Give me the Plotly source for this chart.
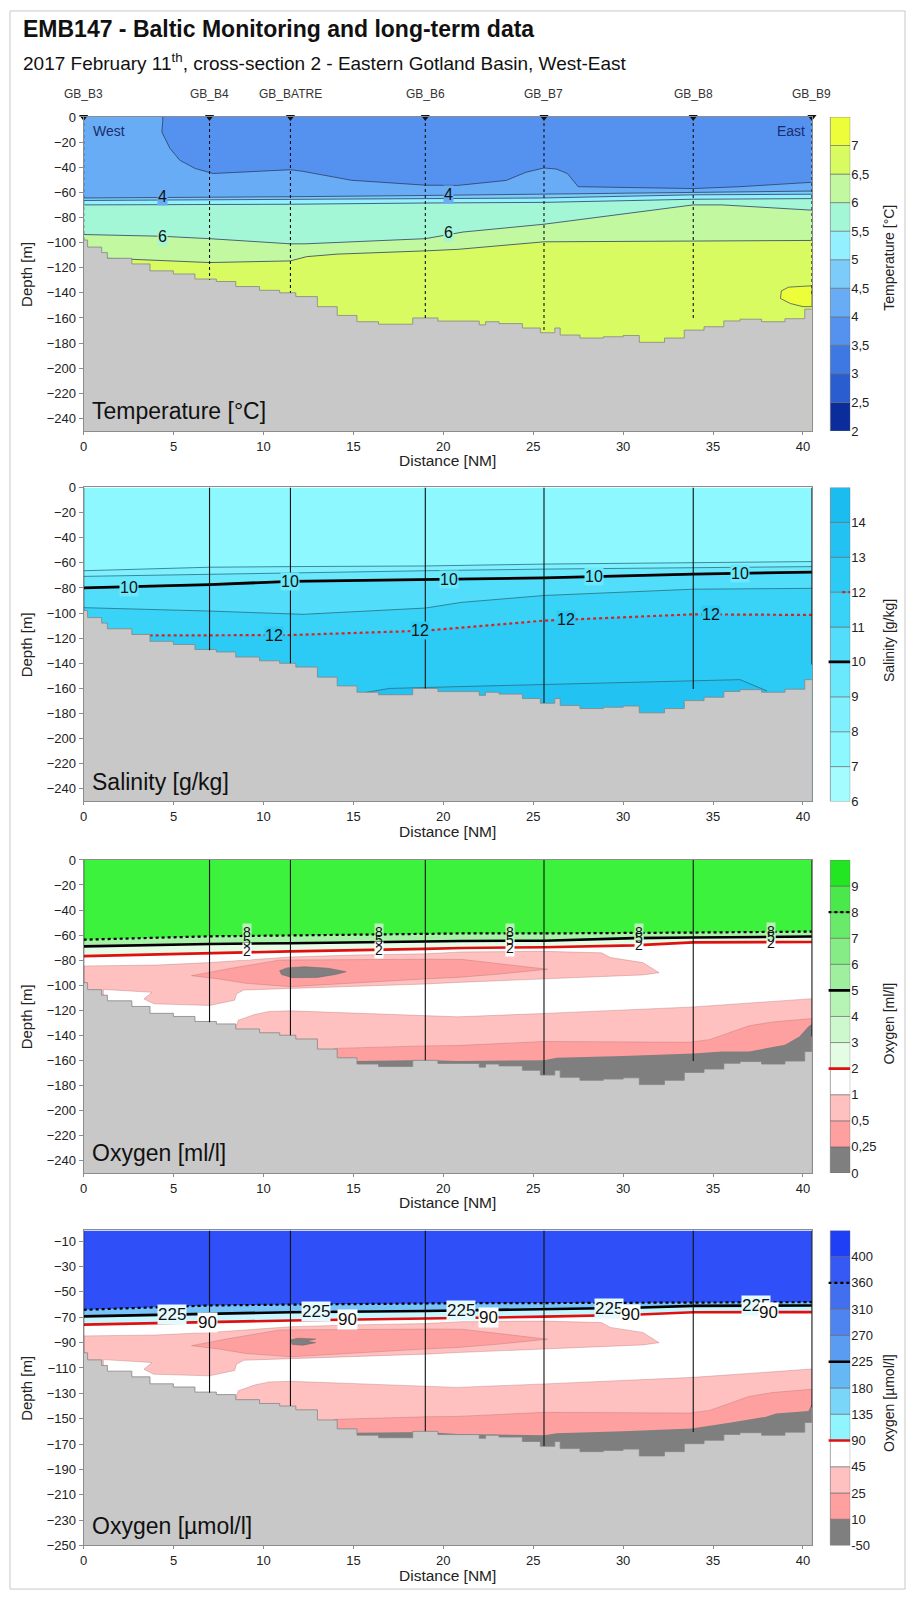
import plotly.graph_objects as go

W, H = 910, 1602
FONT = "Liberation Sans, Arial, sans-serif"
YB = -250.0
XMAX = 40.5

# ---------------- stations & bathymetry ----------------
station_names = ["GB_B3", "GB_B4", "GB_BATRE", "GB_B6", "GB_B7", "GB_B8", "GB_B9"]
station_dist = [0.0, 7.0, 11.5, 19.0, 25.6, 33.9, 40.5]
station_depth = [-98, -129.6, -140, -160, -171.5, -160.5, -141]

bathy_x = [0.0, 0.22, 1.0, 1.32, 2.68, 3.69, 4.99, 6.19, 7.38, 8.46, 9.78, 10.9, 11.8, 13.0,
           14.1, 15.2, 16.4, 18.3, 19.7, 22.0, 22.35, 23.1, 24.4, 25.4, 26.2, 26.5, 27.6, 28.9,
           30.0, 30.9, 32.3, 33.4, 34.5, 35.6, 36.5, 37.7, 39.0, 40.1]
bathy_d = [-98, -103.6, -108, -112.5, -117, -122.5, -125, -129, -131, -135, -138, -140, -143, -151,
           -158, -163, -165, -160, -162.5, -165.5, -163, -164.5, -168, -171.8, -168, -173.6, -176, -175,
           -174, -179.4, -176, -169.7, -167, -162.4, -161, -163, -160.6, -153]

# ---------------- temperature ----------------
temp_x = [0, 7, 11.5, 19, 25.6, 33.9, 40.5]
tA_x = [4.4, 4.4, 4.35, 4.8, 5.35, 6.2, 7.2, 11.5, 12.2, 14.9, 19.0, 20.8, 23.5, 24.6, 25.6, 26.3,
        26.9, 27.5, 33.9, 36.5, 40.5]
tA_d = [0, -3, -12, -25, -34.5, -41, -45, -42, -43.3, -50.4, -54.3, -54.5, -50.5, -44, -40.6, -41.5,
        -45, -55.5, -57, -55.5, -52]
t_iso1 = [-64.5, -64, -63.5, -62.5, -61.5, -60, -59]
t_iso2 = [-66.5, -66, -65.5, -65, -64.5, -62, -61.5]
t_iso3 = [-70, -70, -69.5, -68.5, -68, -65.5, -65]
t6_x = [0, 4.4, 7, 11.5, 12.3, 19, 21.1, 25.6, 33.9, 35.5, 40.5]
t6_d = [-93.6, -95, -96.9, -101, -101, -96.9, -91.6, -85.4, -70, -70, -74.2]
t65_x = [0, 1.3, 7, 11.5, 12.4, 14.1, 19, 20.8, 25.6, 33.9, 40.5]
t65_d = [-110, -112.5, -115.9, -114.6, -111.2, -109.2, -106.6, -105.4, -99.4, -98.9, -98.3]
t7_x = [40.5, 39.2, 38.8, 38.75, 39.3, 40.0, 40.5]
t7_d = [-134.4, -135.5, -138.5, -144.5, -148.5, -151, -151]
temp_band_colors = ["#5592f0", "#68acf6", "#7ccbf8", "#92f0ff", "#a4f7d6", "#c2f8a0", "#d9fb62", "#eefd3a"]
temp_lab_text = ["4", "4", "6", "6"]
temp_lab_x = [4.4, 20.3, 4.4, 20.3]
temp_lab_d = [-63, -61.5, -94.8, -92.3]
temp_lab_bg = ["#68acf6", "#68acf6", "#a4f7d6", "#a4f7d6"]
temp_cb_colors = ["#0b2d9c", "#2a5ed0", "#3d78e3", "#5592f0", "#68acf6", "#7ccbf8", "#92f0ff",
                  "#a4f7d6", "#c2f8a0", "#d9fb62", "#eefd3a"]
temp_cb_labels = ["2", "2,5", "3", "3,5", "4", "4,5", "5", "5,5", "6", "6,5", "7"]

# ---------------- salinity ----------------
sal_x = [0, 7, 11.5, 19, 25.6, 33.9, 40.5]
s8 = [-66.3, -63.5, -63, -62.5, -61, -60, -59]
s9 = [-70.8, -69, -68, -66.3, -65, -64, -63]
s10 = [-80, -77.4, -74.7, -73, -72, -69, -67.4]
s11_x = [0, 7, 12.2, 19, 21, 25.6, 33.9, 40.5]
s11 = [-95.7, -98.4, -101, -96, -91.5, -86, -81, -80.3]
s12 = [-118, -118, -117.5, -114, -106, -101, -101.5]
s13_x = [14.5, 17, 21, 25.6, 30, 33.9, 36.5, 38]
s13 = [-166, -160, -158.5, -157, -155.5, -154, -153, -162]
sal_band_colors = ["#8df8ff", "#7ff1fe", "#6ae8fc", "#52ddfa", "#38d3f7", "#2ccbf5", "#22c3f2"]
sal_lab10_x = [2.5, 11.5, 20.3, 28.4, 36.5]
sal_lab10_d = [-79.3, -74.7, -73, -71, -68.2]
sal_lab12_x = [10.6, 18.7, 26.8, 34.9]
sal_lab12_d = [-117.8, -114, -105, -101]
sal_cb_colors = ["#a4fcff", "#8df8ff", "#7ff1fe", "#6ae8fc", "#52ddfa", "#38d3f7", "#2ccbf5", "#22c3f2", "#1bbdf0"]
sal_cb_labels = ["6", "7", "8", "9", "10", "11", "12", "13", "14"]

# ---------------- oxygen (shared section shapes) ----------------
ox_x = [0, 7, 11.5, 19, 21, 25.6, 30.6, 33.9, 40.5]
ox8 = [-63.7, -61, -60.3, -59, -58.7, -58.7, -58.5, -58, -57.2]
ox5 = [-69, -67.1, -66.5, -65, -64.7, -64.5, -62.4, -62, -61.2]
ox2 = [-76.8, -74.2, -73, -71, -70.3, -69.7, -68.2, -65.8, -65.5]
oxu360 = [-64.1, -60.7, -60, -59, -58.9, -58.8, -58.5, -58.3, -58.1]
oxu225 = [-69.3, -67.2, -66, -65, -64.6, -64, -62.5, -61, -60.7]
oxu90 = [-75.8, -73.7, -72.5, -71, -70.6, -69.5, -68, -66, -65.9]

ox_up_x = [0, 4, 7, 10, 11.5, 15, 19, 21, 25.6, 28.8, 29.3, 31.1, 32.0, 31.1, 28.1, 25.6, 20.8, 19,
           11.5, 8.9, 8.5, 8.4, 7, 3.9, 3.35, 3.8, 1.1, 1.1, 0]
ox_up_d = [-84.7, -84, -82, -79, -77.5, -76, -75, -73.5, -73, -74.2, -78, -82, -90, -91.8, -93.4, -95.2,
           -97.8, -99.1, -102.3, -103.9, -107, -112, -116.2, -114.9, -111, -105.7, -103.4, -110, -110]
ox_lens_x = [6.0, 8.0, 10.9, 15, 19, 21, 23, 25.8, 23, 20.8, 19, 15, 11.5, 9, 7.5]
ox_lens_d = [-92.4, -87, -80, -79.5, -79.3, -79.4, -82.5, -87.3, -91.3, -93.8, -95, -98, -101.2, -98.5, -95]
ox_blob_x = [10.9, 11.3, 12.3, 13.6, 14.6, 14.0, 13.0, 11.6, 11.0]
ox_blob_d = [-88.5, -86.2, -85.3, -86.5, -89.3, -91.5, -93.8, -94.0, -91.5]
oxu_blob_x = [11.5, 11.9, 12.9, 12.4, 12.9, 12.2, 11.6]
oxu_blob_d = [-88, -86.5, -87.2, -88.8, -90, -92, -91.5]
ox_lo1_x = [8.3, 8.6, 9.5, 10.3, 11.5, 15, 19, 20.8, 25.6, 33.9, 40.5]
ox_lo1_d = [-140, -128, -123.5, -121, -120.5, -122.5, -124.8, -125.3, -122.6, -117.4, -110.8]
ox_lo2_x = [13.0, 14.0, 19, 20.8, 25.6, 33.7, 34.8, 37.0, 38.3, 40.5]
ox_lo2_d = [-158, -150.5, -148.5, -148.2, -145, -145.6, -143.5, -132.5, -129.4, -126.7]
ox_lo3_x = [14.9, 15.2, 19, 20.8, 25.6, 26.3, 30, 33.9, 35.5, 37.0, 39.0, 39.8, 40.3, 40.5]
ox_lo3_d = [-170, -160.5, -159.8, -160.5, -160, -158, -156.6, -154.6, -153, -152.9, -147.6, -141, -133, -131]
oxu_lo3_x = [14.9, 15.2, 19, 20.8, 25.6, 26.3, 30, 33.8, 36, 37.9, 38.5, 40.3, 40.5]
oxu_lo3_d = [-170, -161, -160.5, -162, -163, -161.5, -160, -157.7, -153, -148.6, -146, -144, -138.5]

oxml_lab_x = [9.1, 16.4, 23.7, 30.9, 38.2]
oxml_lab8_d = [-57.8, -57.6, -57.5, -57.3, -56.6]
oxml_lab5_d = [-64.5, -64.2, -63.6, -62.5, -61.6]
oxml_lab2_d = [-72.8, -71.8, -70.3, -68.3, -66.1]
oxml_cb_colors = ["#7f7f7f", "#ffa0a0", "#ffc0c0", "#ffffff", "#e4fce4", "#cdf8cd", "#b6f4b6", "#9ef09e",
                  "#86ec86", "#6aea6a", "#4ae84a", "#22e622"]
oxml_cb_labels = ["0", "0,25", "0,5", "1", "2", "3", "4", "5", "6", "7", "8", "9"]

oxu_lab225_x = [4.9, 12.9, 21.0, 29.2, 37.4]
oxu_lab225_d = [-67.5, -65.5, -64.5, -63, -61]
oxu_lab90_x = [6.9, 14.7, 22.5, 30.4, 38.1]
oxu_lab90_d = [-74, -72, -70.5, -68.2, -66]
oxu_cb_colors = ["#7f7f7f", "#ffa0a0", "#ffc0c0", "#ffffff", "#90f5ff", "#7ad6f8", "#66b8f5", "#5a9cf2",
                 "#4d84f0", "#426ff0", "#3658f4", "#1f3ff7"]
oxu_cb_labels = ["-50", "10", "25", "45", "90", "135", "180", "225", "270", "310", "360", "400"]

panel_titles = ["Temperature [°C]", "Salinity [g/kg]", "Oxygen [ml/l]", "Oxygen [µmol/l]"]
cbar_titles = ["Temperature [°C]", "Salinity [g/kg]", "Oxygen [ml/l]", "Oxygen [µmol/l]"]

# ---------------- layout geometry (pixels) ----------------
panel_px = [(111, 428), (485, 802), (861, 1177), (1235, 1553)]
panel_yrange = [[-250, 0], [-250, 0], [-250, 0], [-250, -1.5]]
panel_ticks = [list(range(-240, 1, 20))] * 3 + [list(range(-250, -9, 20))]
cbar_title_y = [253, 640, 1026, 1409]
PX_L, PX_R = 80, 811.5
CB_L, CB_R = 828, 850

fig = go.Figure()


def axn(i):
    return ("x" if i == 1 else f"x{i}"), ("y" if i == 1 else f"y{i}")


def add_band(i, xs, ys, color):
    xa, ya = axn(i)
    fig.add_trace(go.Scatter(x=list(xs) + [xs[-1], xs[0]], y=list(ys) + [YB, YB], fill="toself",
                             fillcolor=color, mode="lines", line=dict(width=0), hoverinfo="skip",
                             xaxis=xa, yaxis=ya))


def add_poly(i, xs, ys, color, lcolor="rgba(0,0,0,0)", lw=0):
    xa, ya = axn(i)
    fig.add_trace(go.Scatter(x=list(xs) + [xs[0]], y=list(ys) + [ys[0]], fill="toself", fillcolor=color,
                             mode="lines", line=dict(width=lw, color=lcolor), hoverinfo="skip",
                             xaxis=xa, yaxis=ya))


def add_line(i, xs, ys, color, width=0.8, dash="solid"):
    xa, ya = axn(i)
    fig.add_trace(go.Scatter(x=xs, y=ys, mode="lines", line=dict(color=color, width=width, dash=dash),
                             hoverinfo="skip", xaxis=xa, yaxis=ya))


def stair(xs, ds, xend):
    px, py = [], []
    for k in range(len(xs)):
        x1 = xs[k + 1] if k + 1 < len(xs) else xend
        px += [xs[k], x1]
        py += [ds[k], ds[k]]
    return px, py


def add_bathy_and_stations(i, top, dash):
    xa, ya = axn(i)
    px, py = stair(bathy_x, bathy_d, XMAX)
    fig.add_trace(go.Scatter(x=px + [XMAX, 0], y=py + [YB, YB], fill="toself", fillcolor="#c8c8c8",
                             mode="lines", line=dict(width=0), hoverinfo="skip", xaxis=xa, yaxis=ya))
    fig.add_trace(go.Scatter(x=px, y=py, mode="lines", line=dict(color="#858585", width=0.8),
                             hoverinfo="skip", xaxis=xa, yaxis=ya))
    sx, sy = [], []
    for d, z in zip(station_dist, station_depth):
        sx += [d, d, None]
        sy += [top, z, None]
    fig.add_trace(go.Scatter(x=sx, y=sy, mode="lines", line=dict(color="#111111", width=1.1, dash=dash),
                             hoverinfo="skip", xaxis=xa, yaxis=ya))


TOP = [r[1] for r in panel_yrange]

# ----- panel 1: temperature -----
c = temp_band_colors
add_band(1, [0, XMAX], [0, 0], c[0])
add_band(1, [0] + tA_x, [0] + tA_d, c[1])
add_band(1, temp_x, t_iso1, c[2])
add_band(1, temp_x, t_iso2, c[3])
add_band(1, temp_x, t_iso3, c[4])
add_band(1, t6_x, t6_d, c[5])
add_band(1, t65_x, t65_d, c[6])
add_poly(1, t7_x, t7_d, c[7], "#2c3e66", 0.7)
lc = "#2c3e66"
add_line(1, tA_x, tA_d, lc)
add_line(1, temp_x, t_iso1, lc)
add_line(1, temp_x, t_iso2, lc)
add_line(1, temp_x, t_iso3, lc)
add_line(1, t6_x, t6_d, lc)
add_line(1, t65_x, t65_d, lc)
add_bathy_and_stations(1, TOP[0], "dot")

# ----- panel 2: salinity -----
c = sal_band_colors
add_band(2, [0, XMAX], [0, 0], c[0])
add_band(2, sal_x, s8, c[1])
add_band(2, sal_x, s9, c[2])
add_band(2, sal_x, s10, c[3])
add_band(2, s11_x, s11, c[4])
add_band(2, sal_x, s12, c[5])
add_band(2, s13_x, s13, c[6])
lc = "#2a6f80"
add_line(2, sal_x, s8, lc)
add_line(2, sal_x, s9, lc)
add_line(2, s11_x, s11, lc)
add_line(2, s13_x, s13, lc)
add_line(2, sal_x, s10, "#000000", 2.8)
add_line(2, sal_x, s12, "#d02828", 2.2, "dot")
add_bathy_and_stations(2, TOP[1], "solid")

# ----- panels 3 & 4: oxygen -----
pink_l = "#ffc0c0"
pink_d = "#ffa0a0"
gray_d = "#7f7f7f"
pline = "rgba(170,100,100,0.55)"
for i in (3, 4):
    if i == 3:
        add_band(i, [0, XMAX], [0, 0], "#3df23d")
        add_band(i, ox_x, ox8, "#a6f2a6")
        add_band(i, ox_x, ox5, "#e6fce6")
        add_band(i, ox_x, ox2, "#ffffff")
    else:
        add_band(i, [0, XMAX], [TOP[3], TOP[3]], "#2f4ff8")
        add_band(i, ox_x, oxu360, "#78c4f8")
        add_band(i, ox_x, oxu225, "#c6f6ff")
        add_band(i, ox_x, oxu90, "#ffffff")
    add_poly(i, ox_up_x, ox_up_d, pink_l, pline, 0.6)
    add_poly(i, ox_lens_x, ox_lens_d, pink_d, pline, 0.6)
    if i == 3:
        add_poly(i, ox_blob_x, ox_blob_d, gray_d, "#666666", 0.5)
    else:
        add_poly(i, oxu_blob_x, oxu_blob_d, gray_d, "#666666", 0.5)
    add_band(i, ox_lo1_x, ox_lo1_d, pink_l)
    add_band(i, ox_lo2_x, ox_lo2_d, pink_d)
    add_line(i, ox_lo1_x, ox_lo1_d, pline, 0.6)
    add_line(i, ox_lo2_x, ox_lo2_d, pline, 0.6)
    if i == 3:
        add_band(i, ox_lo3_x, ox_lo3_d, gray_d)
        add_line(i, ox_x, ox8, "#000000", 2.2, "dot")
        add_line(i, ox_x, ox5, "#000000", 2.6)
        add_line(i, ox_x, ox2, "#e01010", 2.6)
    else:
        add_band(i, oxu_lo3_x, oxu_lo3_d, gray_d)
        add_line(i, ox_x, oxu360, "#000000", 2.2, "dot")
        add_line(i, ox_x, oxu225, "#000000", 2.6)
        add_line(i, ox_x, oxu90, "#e01010", 2.6)
    add_bathy_and_stations(i, TOP[i - 1], "solid")

# top station markers
fig.add_trace(go.Scatter(x=station_dist, y=[0] * len(station_dist), mode="markers",
                         marker=dict(symbol="triangle-down", size=8, color="#111111"),
                         cliponaxis=False, hoverinfo="skip", xaxis="x", yaxis="y"))

# ---------------- colorbars ----------------
cbars = [
    (temp_cb_colors, temp_cb_labels, []),
    (sal_cb_colors, sal_cb_labels, [(4, "#000000", "solid", 2.6, -0.1), (6, "#d02828", "dot", 2.2, 0.6)]),
    (oxml_cb_colors, oxml_cb_labels, [(10, "#000000", "dot", 2.2, -0.1), (7, "#000000", "solid", 2.6, -0.1),
                                      (4, "#e01010", "solid", 2.6, -0.1)]),
    (oxu_cb_colors, oxu_cb_labels, [(10, "#000000", "dot", 2.2, -0.1), (7, "#000000", "solid", 2.6, -0.1),
                                    (4, "#e01010", "solid", 2.6, -0.1)]),
]
for k, (cols, labs, marks) in enumerate(cbars):
    xa, ya = axn(k + 5)
    n = len(cols)
    fig.add_trace(go.Bar(x=[0.5] * n, y=[1] * n, base=list(range(n)), width=1,
                         marker=dict(color=cols, line=dict(color="#6a6a6a", width=0.6)),
                         hoverinfo="skip", xaxis=xa, yaxis=ya))
    for idx, col, dash, wd, x0 in marks:
        fig.add_trace(go.Scatter(x=[x0, 1.0], y=[idx, idx], mode="lines",
                                 line=dict(color=col, width=wd, dash=dash), hoverinfo="skip",
                                 xaxis=xa, yaxis=ya))

# ---------------- axes ----------------
layout_axes = {}
tickfont = dict(family=FONT, size=13, color="#222222")
for i in range(4):
    top_px, bot_px = panel_px[i]
    ydom = [1 - bot_px / H, 1 - top_px / H]
    xk = "xaxis" if i == 0 else f"xaxis{i + 1}"
    yk = "yaxis" if i == 0 else f"yaxis{i + 1}"
    layout_axes[xk] = dict(domain=[PX_L / W, PX_R / W], range=[0, XMAX], anchor=axn(i + 1)[1],
                           tickvals=list(range(0, 41, 5)), showline=True, mirror=True,
                           linecolor="#8c8c8c", linewidth=1, ticks="outside", ticklen=3,
                           tickcolor="#8c8c8c", showgrid=False, zeroline=False, tickfont=tickfont)
    layout_axes[yk] = dict(domain=ydom, range=panel_yrange[i], anchor=axn(i + 1)[0],
                           tickvals=panel_ticks[i], showline=True, mirror=True,
                           linecolor="#8c8c8c", linewidth=1, ticks="outside", ticklen=4,
                           tickcolor="#8c8c8c", showgrid=False, zeroline=False, tickfont=tickfont)
    n = len(cbars[i][0])
    layout_axes[f"xaxis{i + 5}"] = dict(domain=[CB_L / W, CB_R / W], range=[-0.1, 1.0], anchor=f"y{i + 5}",
                                        visible=False, fixedrange=True)
    layout_axes[f"yaxis{i + 5}"] = dict(domain=ydom, range=[0, n], anchor=f"x{i + 5}", side="right",
                                        tickvals=list(range(len(cbars[i][1]))), ticktext=cbars[i][1],
                                        showgrid=False, zeroline=False, showline=False, ticks="",
                                        tickfont=dict(family=FONT, size=13, color="#222222"))

# ---------------- annotations ----------------
ann = []
ann.append(dict(text="<b>EMB147 - Baltic Monitoring and long-term data</b>", x=17 / W, y=1 - 22 / H,
                xref="paper", yref="paper", xanchor="left", yanchor="middle", showarrow=False,
                font=dict(family=FONT, size=23, color="#111111")))
ann.append(dict(text="2017 February 11<sup>th</sup>, cross-section 2 - Eastern Gotland Basin, West-East",
                x=17 / W, y=1 - 56 / H, xref="paper", yref="paper", xanchor="left", yanchor="middle",
                showarrow=False, font=dict(family=FONT, size=19, color="#111111")))
for nm, d in zip(station_names, station_dist):
    ann.append(dict(text=nm, x=d, y=1 - 88 / H, xref="x", yref="paper", xanchor="center", yanchor="middle",
                    showarrow=False, font=dict(family=FONT, size=12, color="#333333")))
for i in range(4):
    top_px, bot_px = panel_px[i]
    mid = (top_px + bot_px) / 2
    ann.append(dict(text="Depth [m]", x=23 / W, y=1 - mid / H, xref="paper", yref="paper", textangle=-90,
                    xanchor="center", yanchor="middle", showarrow=False,
                    font=dict(family=FONT, size=15, color="#222222")))
    ann.append(dict(text="Distance [NM]", x=445 / W, y=1 - (bot_px + 30) / H, xref="paper", yref="paper",
                    xanchor="center", yanchor="middle", showarrow=False,
                    font=dict(family=FONT, size=15.5, color="#222222")))
    ann.append(dict(text=panel_titles[i], x=86 / W, y=1 - (bot_px - 20) / H, xref="paper", yref="paper",
                    xanchor="left", yanchor="middle", showarrow=False,
                    font=dict(family=FONT, size=23, color="#111111")))
    ann.append(dict(text=cbar_titles[i], x=889 / W, y=1 - cbar_title_y[i] / H, xref="paper", yref="paper",
                    textangle=-90, xanchor="center", yanchor="middle", showarrow=False,
                    font=dict(family=FONT, size=14, color="#222222")))

ann.append(dict(text="West", x=0.4, y=-11.5, xref="x", yref="y", xanchor="left", yanchor="middle",
                showarrow=False, font=dict(family=FONT, size=14, color="#1c2c6c")))
ann.append(dict(text="East", x=40.2, y=-11.5, xref="x", yref="y", xanchor="right", yanchor="middle",
                showarrow=False, font=dict(family=FONT, size=14, color="#1c2c6c")))

for t, x, d, bg in zip(temp_lab_text, temp_lab_x, temp_lab_d, temp_lab_bg):
    ann.append(dict(text=t, x=x, y=d, xref="x", yref="y", showarrow=False, bgcolor=bg, borderpad=0,
                    font=dict(family=FONT, size=16, color="#111111")))
for x, d in zip(sal_lab10_x, sal_lab10_d):
    ann.append(dict(text="10", x=x, y=d, xref="x2", yref="y2", showarrow=False, bgcolor="#6ae8fc",
                    borderpad=0, font=dict(family=FONT, size=16, color="#111111")))
for x, d in zip(sal_lab12_x, sal_lab12_d):
    ann.append(dict(text="12", x=x, y=d, xref="x2", yref="y2", showarrow=False, bgcolor="#2ccbf5",
                    borderpad=0, font=dict(family=FONT, size=16, color="#111111")))
for x, d8, d5, d2 in zip(oxml_lab_x, oxml_lab8_d, oxml_lab5_d, oxml_lab2_d):
    for t, d, bg in (("2", d2, "#ffffff"), ("8", d8, "#b8f4b8"), ("5", d5, "rgba(0,0,0,0)")):
        ann.append(dict(text=t, x=x, y=d, xref="x3", yref="y3", showarrow=False, bgcolor=bg, borderpad=0,
                        font=dict(family=FONT, size=14, color="#111111")))
for x, d in zip(oxu_lab225_x, oxu_lab225_d):
    ann.append(dict(text="225", x=x, y=d, xref="x4", yref="y4", showarrow=False, bgcolor="#e4faff",
                    borderpad=0, font=dict(family=FONT, size=17, color="#111111")))
for x, d in zip(oxu_lab90_x, oxu_lab90_d):
    ann.append(dict(text="90", x=x, y=d, xref="x4", yref="y4", showarrow=False, bgcolor="#ffffff",
                    borderpad=0, font=dict(family=FONT, size=17, color="#111111")))

fig.update_layout(width=W, height=H, margin=dict(l=0, r=0, t=0, b=0), paper_bgcolor="white",
                  plot_bgcolor="white", barmode="overlay", showlegend=False,
                  font=dict(family=FONT, size=13, color="#222222"), annotations=ann,
                  shapes=[dict(type="rect", xref="paper", yref="paper", x0=6 / W, x1=905 / W,
                               y0=1 - 1597 / H, y1=1 - 4 / H, line=dict(color="#c8c8c8", width=1))],
                  **layout_axes)

fig.write_html("out.html")
